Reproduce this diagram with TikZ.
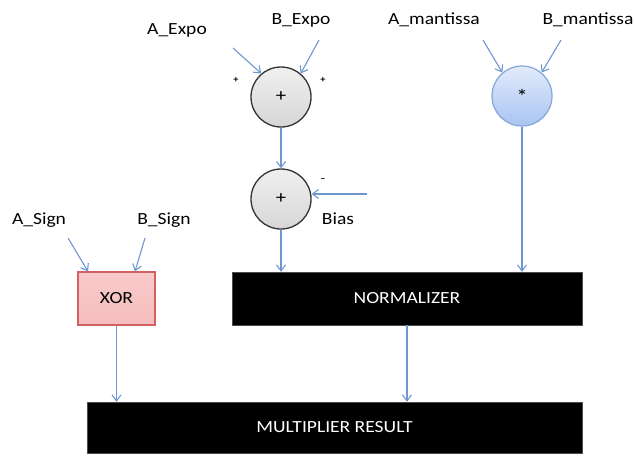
\documentclass[tikz,border=0pt]{standalone}
\usepackage{fontspec}
\setmainfont[FakeStretch=1.15]{Carlito}
\usepackage{tikz}
\usetikzlibrary{arrows.meta}
\usetikzlibrary{calc}
\usetikzlibrary{positioning}

\definecolor{linkblue}{HTML}{6E97CF}
\definecolor{xorfill}{HTML}{F6BDBD}
\definecolor{xorline}{HTML}{D26262}
\definecolor{multline}{HTML}{86A6D8}
\definecolor{multtop}{HTML}{E2EAFA}
\definecolor{multbot}{HTML}{A9C5F2}

\begin{document}
\begin{tikzpicture}[x=1pt,y=-1pt,
		lbl/.style={font=\fontsize{17}{19}\selectfont},
		sgn/.style={font=\fontsize{9}{10}\selectfont\bfseries},
		link/.style={draw=linkblue,line width=1.1pt,-{Straight Barb[length=6pt,width=9pt]}},
		adder/.style={circle,minimum size=60pt,inner sep=0pt,draw=black!80,line width=1.3pt,top color=gray!12,bottom color=gray!32,font=\fontsize{18}{20}\selectfont},
		mulop/.style={circle,minimum size=60pt,inner sep=0pt,draw=multline,line width=1.2pt,top color=multtop,bottom color=multbot,font=\fontsize{20}{22}\selectfont},
		blackbox/.style={rectangle,fill=black,draw=black!70,inner sep=0pt,text=white,font=\fontsize{17}{19}\selectfont}]
		\useasboundingbox (0,0) rectangle (634,455);

		% inputs
		\node[lbl] (aexpo) at (177,30) {A\_Expo};
		\node[lbl] (bexpo) at (301,20) {B\_Expo};
		\node[lbl] (aman) at (434,20) {A\_mantissa};
		\node[lbl] (bman) at (588,20) {B\_mantissa};
		\node[lbl] (asign) at (39,220) {A\_Sign};
		\node[lbl] (bsign) at (164,220) {B\_Sign};
		\node[lbl] (bias) at (338,219) {Bias};
		\node[sgn] (plusa) at (236,80) {+};
		\node[sgn] (plusb) at (323,80) {+};
		\node[sgn] (minus) at (323,180) {--};

		% operators
		\node[adder] (add1) at (281,97) {+};
		\node[adder] (add2) at (281,199) {+};
		\node[mulop] (mult) at (522,96) {*};
		\node[rectangle,minimum width=77pt,minimum height=53pt,inner sep=0pt,draw=xorline,line width=1.2pt,top color=xorfill!80,bottom color=xorfill,font=\fontsize{17}{19}\selectfont] (xor) at (116.5,298.5) {XOR};
		\node[blackbox,minimum width=350pt,minimum height=53pt] (norm) at (407,298.5) {NORMALIZER};
		\node[blackbox,minimum width=495pt,minimum height=51pt] (result) at (334.5,427.5) {MULTIPLIER RESULT};

		% free ends of the input arrows
		\coordinate (aexpoin) at (233,48);
		\coordinate (bexpoin) at (319,40);
		\coordinate (amanin) at (483,40);
		\coordinate (bmanin) at (561,40);
		\coordinate (asignin) at (68,238);
		\coordinate (bsignin) at (145,238);
		\coordinate (biasin) at (367,194);

		% connections
		\draw[link] (aexpoin) -- (add1.130);
		\draw[link] (bexpoin) -- (add1.50);
		\draw[link] (amanin) -- (mult.130);
		\draw[link] (bmanin) -- (mult.50);
		\draw[link] (add1) -- (add2);
		\draw[link] (biasin) -- (biasin -| add2.east);
		\draw[link] (add2) -- (add2 |- norm.north);
		\draw[link] (mult) -- (mult |- norm.north);
		\draw[link] (asignin) -- ($(xor.north)+(-28.5,0)$);
		\draw[link] (bsignin) -- ($(xor.north)+(18.5,0)$);
		\draw[link] (xor) -- (xor |- result.north);
		\draw[link] (norm) -- (norm |- result.north);
	\end{tikzpicture}
\end{document}
